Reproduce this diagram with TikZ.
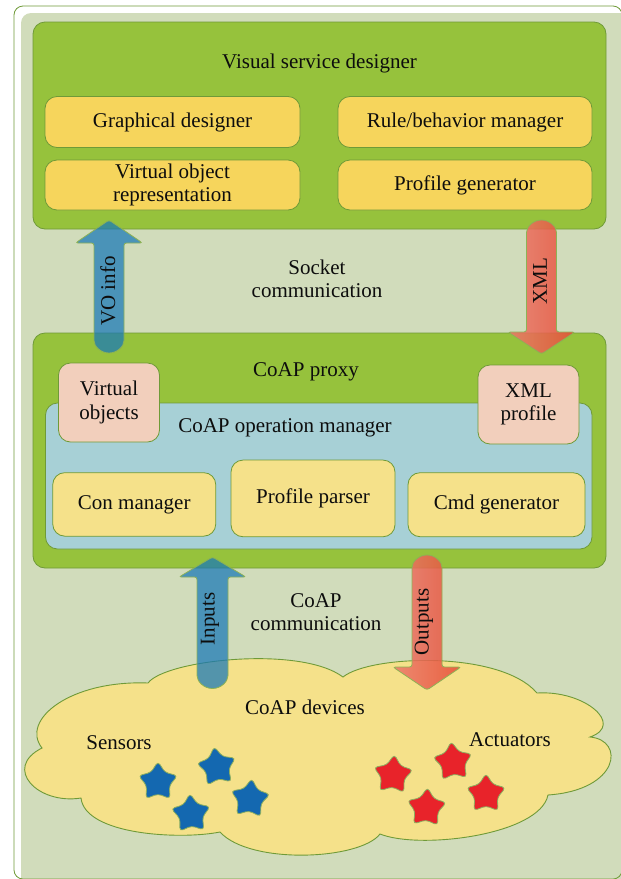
\documentclass[tikz,border=0pt]{standalone}
\usepackage{fontspec}
\setmainfont{Liberation Serif}
\usetikzlibrary{shapes.geometric}
\definecolor{sage}{HTML}{D1DCBB}
\definecolor{lgreen}{HTML}{96C23C}
\definecolor{bgreen}{HTML}{6F9A38}
\definecolor{ybox}{HTML}{F6D55C}
\definecolor{pyel}{HTML}{F5E18A}
\definecolor{lblue}{HTML}{A7D0D6}
\definecolor{pinkbox}{HTML}{F2CFBC}
\definecolor{abl}{HTML}{1878B8}
\definecolor{sblue}{HTML}{1468B0}
\definecolor{sred}{HTML}{E8232A}
\definecolor{redl}{HTML}{EC7A6C}
\definecolor{redr}{HTML}{E84C36}
\definecolor{aline}{HTML}{8DB255}
\definecolor{txt}{HTML}{0D0D0D}
\begin{document}
\begin{tikzpicture}[x=1pt,y=-1pt,
  font=\fontsize{21}{23.5}\selectfont,
  every node/.style={text=txt},
  box/.style={draw=bgreen, line width=0.8pt, rounded corners=12pt, align=center, inner sep=2pt},
  greenbox/.style={box, fill=lgreen},
  yellowbox/.style={box, fill=ybox},
  paleyellow/.style={box, fill=pyel},
  bluebox/.style={box, fill=lblue},
  pinkb/.style={box, fill=pinkbox},
  lbl/.style={align=center, inner sep=0pt},
  bluearrow/.style={draw=aline, line width=0.8pt, fill=abl, fill opacity=0.73, rounded corners=2.5pt},
  redarrow/.style={draw=aline, line width=0.8pt, left color=redl, right color=redr, fill opacity=0.85, rounded corners=2.5pt},
  bstar/.style={star, star points=5, star point ratio=1.72, minimum size=41pt, inner sep=0pt, draw=bgreen!80, line width=0.8pt, rounded corners=3.5pt, fill=sblue},
  rstar/.style={bstar, fill=sred},
  cloudshape/.style={draw=bgreen, line width=0.9pt, fill=pyel}
]
\useasboundingbox (0,0) rectangle (621,879);
% background panel
\fill[sage, rounded corners=10pt] (21,13) rectangle (640,892);
\draw[bgreen, line width=0.8pt, rounded corners=9pt] (14,6) rectangle (622,879);

% Visual service designer
\node[greenbox, minimum width=573pt, minimum height=207pt] (vsd) at (319.5,125.5) {};
\node[lbl] (vsdt) at (319.5,63) {Visual service designer};
\node[yellowbox, minimum width=255pt, minimum height=51pt] (gd) at (172.5,122) {Graphical designer};
\node[yellowbox, minimum width=254pt, minimum height=51pt] (rbm) at (465,122) {Rule/behavior manager};
\node[yellowbox, minimum width=255pt, minimum height=50pt] (vor) at (172.5,185) {Virtual object\\representation};
\node[yellowbox, minimum width=254pt, minimum height=50pt] (pg) at (465,185) {Profile generator};

\node[lbl] (sock) at (317,279) {Socket\\communication};

% CoAP proxy
\node[greenbox, minimum width=573pt, minimum height=235pt] (proxy) at (319.5,450.5) {};
\node[lbl] (proxyt) at (306,372) {CoAP proxy};
\node[bluebox, minimum width=546.5pt, minimum height=146pt] (opm) at (318.75,476) {};
\node[lbl] (opmt) at (285,428) {CoAP operation manager};
\node[pinkb, minimum width=101pt, minimum height=79pt] (vobj) at (109,402.5) {Virtual\\objects};
\node[pinkb, minimum width=101pt, minimum height=79pt] (xmlp) at (528.5,404.5) {XML\\profile};
\node[paleyellow, minimum width=163pt, minimum height=63.5pt] (con) at (134.25,504.4) {Con manager};
\node[paleyellow, minimum width=164pt, minimum height=76.7pt] (pp) at (313,498.4) {Profile parser};
\node[paleyellow, minimum width=177pt, minimum height=64pt] (cmd) at (496.5,504.7) {Cmd generator};

\node[lbl] (coapc) at (316,612) {CoAP\\communication};

% cloud
\draw[cloudshape] (148,683) .. controls (165,660) and (300,645) .. (343,677)
  .. controls (370,655) and (500,650) .. (537,693)
  .. controls (585,690) and (625,725) .. (590,737)
  .. controls (625,740) and (620,790) .. (548,795)
  .. controls (540,835) and (420,850) .. (380,834)
  .. controls (360,860) and (250,865) .. (220,832)
  .. controls (180,840) and (85,835) .. (81,798)
  .. controls (38,805) and (2,768) .. (42,748)
  .. controls (20,720) and (70,680) .. (148,683) -- cycle;
\node[lbl] (devt) at (305,707) {CoAP devices};
\node[lbl] (sens) at (119,743) {Sensors};
\node[lbl] (act) at (510,740) {Actuators};

% stars
\node[bstar] (s1) at (158,782) {};
\node[bstar, rotate=8] (s2) at (217,767) {};
\node[bstar, rotate=-5] (s3) at (250,799) {};
\node[bstar, rotate=3] (s4) at (191,814) {};
\node[rstar, rotate=-4] (r1) at (393,775) {};
\node[rstar, rotate=5] (r2) at (453,762) {};
\node[rstar] (r3) at (486,794) {};
\node[rstar, rotate=-3] (r4) at (426.5,808) {};

% block arrows
\draw[bluearrow] (109,220) -- (142.5,243) -- (124,243) -- (124,338)
  arc[start angle=0, end angle=180, radius=15] -- (94,243) -- (75.5,243) -- cycle;
\node[lbl, rotate=90] (voi) at (108,291) {VO info};

\draw[redarrow] (541.5,354) -- (575,332) -- (556.5,332) -- (556.5,235)
  arc[start angle=0, end angle=-180, radius=15] -- (526.5,332) -- (508,332) -- cycle;
\node[lbl, rotate=90] (xmlt) at (540,281) {XML};

\draw[bluearrow] (212.5,557) -- (246,577) -- (228,577) -- (228,673)
  arc[start angle=0, end angle=180, radius=15.5] -- (197,577) -- (179,577) -- cycle;
\node[lbl, rotate=90] (inp) at (210,619) {Inputs};

\draw[redarrow] (427,690) -- (461,667) -- (442,667) -- (442,570)
  arc[start angle=0, end angle=-180, radius=15] -- (412,667) -- (393,667) -- cycle;
\node[lbl, rotate=90] (outp) at (424,622) {Outputs};
\end{tikzpicture}
\end{document}
